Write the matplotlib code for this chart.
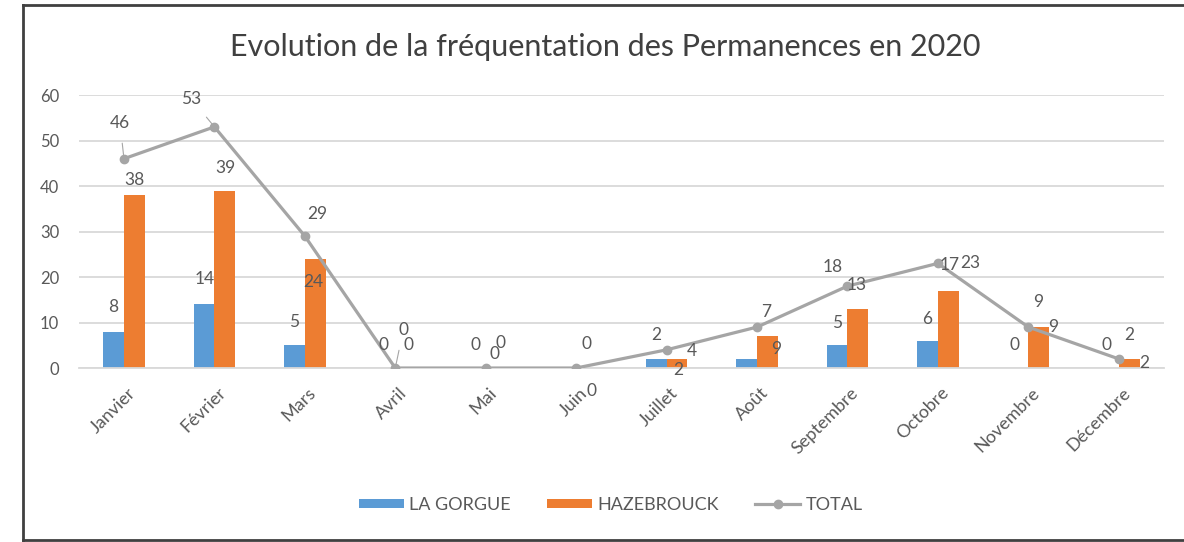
import matplotlib.pyplot as plt
from matplotlib.lines import Line2D
from matplotlib.transforms import ScaledTranslation
import numpy as np

plt.rcParams['font.family'] = ['Lato', 'DejaVu Sans']

months = ["Janvier", "Février", "Mars", "Avril", "Mai", "Juin", "Juillet",
          "Août", "Septembre", "Octobre", "Novembre", "Décembre"]
la_gorgue = [8, 14, 5, 0, 0, 0, 2, 2, 5, 6, 0, 0]
hazebrouck = [38, 39, 24, 0, 0, 0, 2, 7, 13, 17, 9, 2]
total = [46, 53, 29, 0, 0, 0, 4, 9, 18, 23, 9, 2]

BLUE = '#5B9BD5'
ORANGE = '#ED7D31'
GREY = '#A5A5A5'
TEXT = '#595959'

# label offsets in pixels from the mark (None = label not visible in the original)
off_blue = [(0, 25), (1, 25), (0, 23), (-1, 23), (0, 23), None, (0, 24),
            None, (0, 22), (0, 22), (-3, 23), (-2, 23)]
off_orange = [(0, 15), (1, 23), (-2, -23), (3, 23), (4, 25), (5, -23), (1, -11),
              (-1, 24), (-1, 24), (1, 26), (-1, 25), (0, 24)]
off_total = [(-4, 36), (-23, 28), (12, 22), (8, 38), (9, 14), (10, 24), (25, -1),
             (19, -22), (-15, 19), (32, 0), (25, 0), (25, -4)]
leader = [0, 1, 3]

fig = plt.figure(figsize=(11.84, 5.42), dpi=100)
ax = fig.add_axes([0.0665, 0.321, 0.9166, 0.5037])

x = np.arange(len(months))
w = 0.23
ax.bar(x - w / 2, la_gorgue, w, color=BLUE, label='LA GORGUE', zorder=2)
ax.bar(x + w / 2, hazebrouck, w, color=ORANGE, label='HAZEBROUCK', zorder=2)
ax.plot(x, total, color=GREY, lw=2.3, marker='o', ms=6, label='TOTAL', zorder=3)

def put_labels(xs, vals, offsets, lead=()):
    for i, (xi, v, o) in enumerate(zip(xs, vals, offsets)):
        if o is None:
            continue
        props = None
        if i in lead:
            props = dict(arrowstyle='-', color=GREY, lw=0.8, shrinkA=7, shrinkB=3)
        ax.annotate(str(v), (xi, v), xytext=o, textcoords='offset pixels',
                    ha='center', va='center', fontsize=12.5, color=TEXT,
                    arrowprops=props, zorder=4)

put_labels(x - w / 2, la_gorgue, off_blue)
put_labels(x + w / 2, hazebrouck, off_orange)
put_labels(x, total, off_total, leader)

ax.set_xlim(-0.5, len(months) - 0.5)
ax.set_ylim(0, 60)
ax.set_yticks(range(0, 61, 10))
ax.yaxis.grid(True, color='#D9D9D9', lw=1.3, zorder=0)
ax.set_axisbelow(True)
for s in ['top', 'right', 'left']:
    ax.spines[s].set_visible(False)
ax.spines['bottom'].set_color('#D9D9D9')
ax.spines['bottom'].set_linewidth(1.3)
ax.tick_params(axis='y', length=0, colors=TEXT, labelsize=12, pad=14)
ax.set_xticks(x)
ax.set_xticklabels(months, rotation=45, ha='right', va='top', rotation_mode='anchor')
ax.tick_params(axis='x', length=0, colors=TEXT, labelsize=13, pad=12)
for lab in ax.get_xticklabels():
    lab.set_transform(lab.get_transform() + ScaledTranslation(0.03, 0, fig.dpi_scale_trans))

fig.text(0.511, 0.913, "Evolution de la fréquentation des Permanences en 2020",
         ha='center', va='center', fontsize=22, color='#404040')

handles, labels = ax.get_legend_handles_labels()
order = [1, 2, 0]
ax.legend([handles[i] for i in order], [labels[i] for i in order],
          loc='center', bbox_to_anchor=(0.516, 1 - 505 / 542), bbox_transform=fig.transFigure,
          ncol=3, frameon=False, fontsize=13, labelcolor=TEXT, handlelength=2.5,
          handleheight=0.45, columnspacing=2.0, handletextpad=0.3)

# outer frame of the original chart
fig.add_artist(Line2D([23 / 1184, 23 / 1184], [1 - 5 / 542, 1 - 540 / 542], color='#404040', lw=2))
fig.add_artist(Line2D([23 / 1184, 1], [1 - 5 / 542, 1 - 5 / 542], color='#404040', lw=2))
fig.add_artist(Line2D([23 / 1184, 1], [1 - 540 / 542, 1 - 540 / 542], color='#404040', lw=2))

fig.savefig('out.png', dpi=100)
